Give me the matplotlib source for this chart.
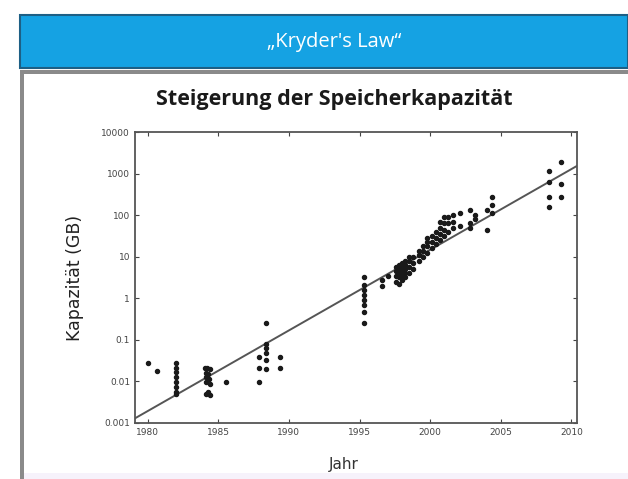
import matplotlib
matplotlib.use("Agg")
import matplotlib.pyplot as plt
from matplotlib.patches import Rectangle

# ---- data ----
years = [
    1980.0, 1980.65,
    1982.0, 1982.0, 1982.0, 1982.0, 1982.0, 1982.0, 1982.0, 1982.0,
    1984.03, 1984.2, 1984.4, 1984.1, 1984.27, 1984.1, 1984.34, 1984.15, 1984.4, 1984.27, 1984.4, 1984.1,
    1985.57,
    1987.9, 1987.9, 1987.9,
    1988.4, 1988.4, 1988.4, 1988.4, 1988.4, 1988.4,
    1989.4, 1989.4,
    1995.3, 1995.3, 1995.3, 1995.3, 1995.3, 1995.3, 1995.3, 1995.3,
    1996.6, 1996.6, 1997.0,
    1997.6, 1997.6, 1997.6, 1997.6,
    1997.8, 1997.8, 1997.8, 1997.8, 1997.8,
    1998.0, 1998.0, 1998.0, 1998.0, 1998.0,
    1998.2, 1998.2, 1998.2, 1998.2, 1998.2,
    1998.5, 1998.5, 1998.5, 1998.5,
    1998.8, 1998.8, 1998.8,
    1999.2, 1999.2, 1999.2,
    1999.5, 1999.5, 1999.5,
    1999.8, 1999.8, 1999.8, 1999.8,
    2000.1, 2000.1, 2000.1,
    2000.4, 2000.4, 2000.4,
    2000.7, 2000.7, 2000.7, 2000.7,
    2001.0, 2001.0, 2001.0, 2001.0,
    2001.3, 2001.3, 2001.3,
    2001.6, 2001.6, 2001.6,
    2002.1, 2002.1,
    2002.8, 2002.8, 2002.8,
    2003.2, 2003.2,
    2004.0, 2004.0,
    2004.4, 2004.4, 2004.4,
    2008.45, 2008.45, 2008.45, 2008.45,
    2009.3, 2009.3, 2009.3,
]
capacity_gb = [
    0.027, 0.018,
    0.027, 0.021, 0.017, 0.013, 0.0098, 0.0074, 0.0055, 0.005,
    0.021, 0.021, 0.0195, 0.016, 0.015, 0.013, 0.0117, 0.0098, 0.0089, 0.0055, 0.0046, 0.005,
    0.0098,
    0.039, 0.021, 0.0098,
    0.26, 0.081, 0.063, 0.049, 0.033, 0.020,
    0.039, 0.021,
    3.3, 2.1, 1.6, 1.2, 0.91, 0.69, 0.48, 0.25,
    1.95, 2.8, 3.5,
    2.5, 3.5, 4.5, 5.6,
    2.2, 3.2, 4.0, 5.0, 6.3,
    2.8, 3.5, 4.5, 5.6, 7.1,
    3.2, 4.0, 5.0, 6.3, 8.0,
    4.0, 5.6, 8.0, 10,
    5.0, 7.1, 10,
    8.0, 11, 14,
    10, 14, 18,
    12.6, 18, 22, 28,
    16, 22, 32,
    20, 28, 40,
    25, 35, 50, 70,
    32, 45, 63, 90,
    40, 63, 90,
    50, 70, 100,
    54, 115,
    50, 66, 135,
    80, 100,
    45, 135,
    115, 180, 280,
    160, 280, 620, 1175,
    280, 560, 1860,
]
trend_years = [1979.0, 2010.5]
trend_gb = [0.00124, 1600]

xticks = [1980, 1985, 1990, 1995, 2000, 2005, 2010]
yticks = [0.001, 0.01, 0.1, 1, 10, 100, 1000, 10000]
ytick_labels = ["0.001", "0.01", "0.1", "1", "10", "100", "1000", "10000"]

header_text = "\u201eKryder's Law\u201c"
title_text = "Steigerung der Speicherkapazität"
xlabel_text = "Jahr"
ylabel_text = "Kapazität (GB)"

# ---- figure ----
W, H = 628, 479
fig = plt.figure(figsize=(W / 100, H / 100), dpi=100)
fig.patch.set_facecolor("white")

def fx(px):
    return px / W

def fy(py):
    return 1 - py / H

# header bar
fig.add_artist(Rectangle((fx(20), fy(68)), 1 - fx(20), fy(15) - fy(68),
                         transform=fig.transFigure, facecolor="#15a2e3",
                         edgecolor="#1d5f85", linewidth=1.5))
fig.text(fx(334), fy(42), header_text, color="white", ha="center", va="center",
         fontsize=14.5, family="Open Sans")
# gray band under header
fig.add_artist(Rectangle((fx(20), fy(74)), 1 - fx(20), fy(70) - fy(74),
                         transform=fig.transFigure, facecolor="#8a8a8a",
                         edgecolor="none"))
# left gray border of panel
fig.add_artist(Rectangle((fx(20), 0), fx(3.5), fy(73),
                         transform=fig.transFigure, facecolor="#8a8a8a",
                         edgecolor="none"))
# faint bottom strip
fig.add_artist(Rectangle((fx(24), 0), 1 - fx(24), fy(473),
                         transform=fig.transFigure, facecolor="#f6f2fb",
                         edgecolor="none"))

fig.text(fx(334), fy(100), title_text, ha="center", va="center",
         fontsize=15.5, fontweight="bold", family="Open Sans", color="#1a1a1a")

ax = fig.add_axes([fx(135), fy(423), fx(577) - fx(135), fy(132) - fy(423)])
ax.set_yscale("log")
ax.plot(trend_years, trend_gb, color="#555555", linewidth=1.4, zorder=2)
ax.plot(years, capacity_gb, linestyle="none", marker="o", markersize=2.9,
        color="#1a1a1a", zorder=3)
ax.set_xlim(1979.1, 2010.4)
ax.set_ylim(0.001, 10000)
ax.set_xticks(xticks)
ax.set_xticklabels([str(t) for t in xticks])
ax.set_yticks(yticks)
ax.set_yticklabels(ytick_labels)
ax.minorticks_off()
ax.tick_params(direction="in", length=3, width=0.8, labelsize=6.5,
               colors="#444444", top=True, right=True)
for s in ax.spines.values():
    s.set_color("#555555")
    s.set_linewidth(1.3)

fig.text(fx(344), fy(465), xlabel_text, ha="center", va="center",
         fontsize=11, color="#333333")
fig.text(fx(75), fy(278), ylabel_text, ha="center", va="center",
         rotation=90, fontsize=12.5, color="#222222")

fig.savefig("out.png", dpi=100)
